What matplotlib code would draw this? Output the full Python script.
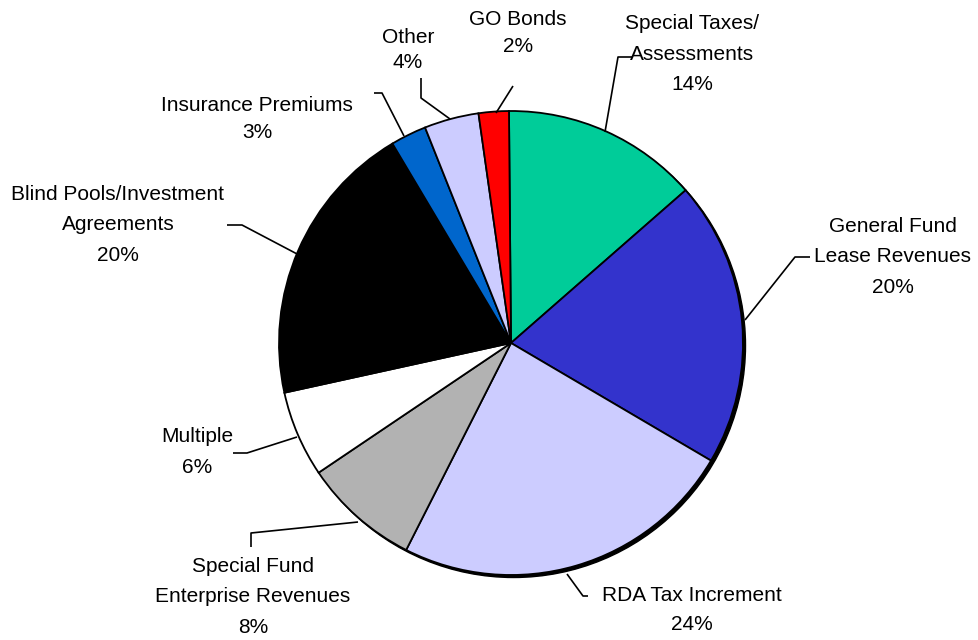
import matplotlib
matplotlib.use("Agg")
import matplotlib.pyplot as plt
from matplotlib.patches import Circle

plt.rcParams['font.family'] = ['Liberation Sans', 'DejaVu Sans']

categories = ["Special Taxes/\nAssessments", "General Fund\nLease Revenues", "RDA Tax Increment",
              "Special Fund\nEnterprise Revenues", "Multiple", "Blind Pools/Investment\nAgreements",
              "Insurance Premiums", "Other", "GO Bonds"]
values = [13.7, 19.9, 24.0, 8.1, 6.0, 19.9, 2.5, 3.8, 2.1]
pct_labels = ["14%", "20%", "24%", "8%", "6%", "20%", "3%", "4%", "2%"]
colors = ["#00CC99", "#3333CC", "#CCCCFF", "#B2B2B2", "#FFFFFF", "#000000",
          "#0066CC", "#CCCCFF", "#FF0000"]

W, H = 979, 640
fig = plt.figure(figsize=(W / 100, H / 100), dpi=100)
ax = fig.add_axes([0, 0, 1, 1])

def Y(y):
    return H - y

cx, cy, r = 511, 343, 232
# shadow
ax.add_patch(Circle((cx + 2.5, Y(cy) - 2.5), r, facecolor='black', edgecolor='black', zorder=0))
ax.pie(values, colors=colors, startangle=90.5, counterclock=False,
       center=(cx, Y(cy)), radius=r, frame=True,
       wedgeprops=dict(edgecolor='black', linewidth=1.3))
ax.set_xlim(0, W)
ax.set_ylim(0, H)
ax.set_aspect('auto')
ax.axis('off')

# label block centers, line spacings and leader lines (pixel coords)
label_pos = [(692, 54), (893, 257), (692, 610), (253, 597), (197, 452),
             (118, 225), (257, 119), (408, 50), (518, 33)]
spacings = [1.75, 1.75, 1.7, 1.75, 1.75, 1.75, 1.5, 1.4, 1.55]
leaders = [
    [(632, 57), (618, 57), (605, 132)],
    [(810, 257), (795, 257), (745, 320)],
    [(567, 574), (583, 596), (588, 596)],
    [(251, 547), (251, 533), (358, 522)],
    [(233, 453), (247, 453), (297, 437)],
    [(227, 225), (242, 225), (299, 255)],
    [(374, 93), (382, 93), (404, 136)],
    [(421, 78), (421, 98), (450, 119)],
    [(513, 86), (496, 113)],
]

for name, pct, (x, y), ls in zip(categories, pct_labels, label_pos, spacings):
    ax.text(x, Y(y), name + "\n" + pct, ha='center', va='center',
            fontsize=15, linespacing=ls, color='black')

for pts in leaders:
    xs = [p[0] for p in pts]
    ys = [Y(p[1]) for p in pts]
    ax.plot(xs, ys, color='black', linewidth=1.2, solid_capstyle='butt')

fig.savefig("out.png", dpi=100)
